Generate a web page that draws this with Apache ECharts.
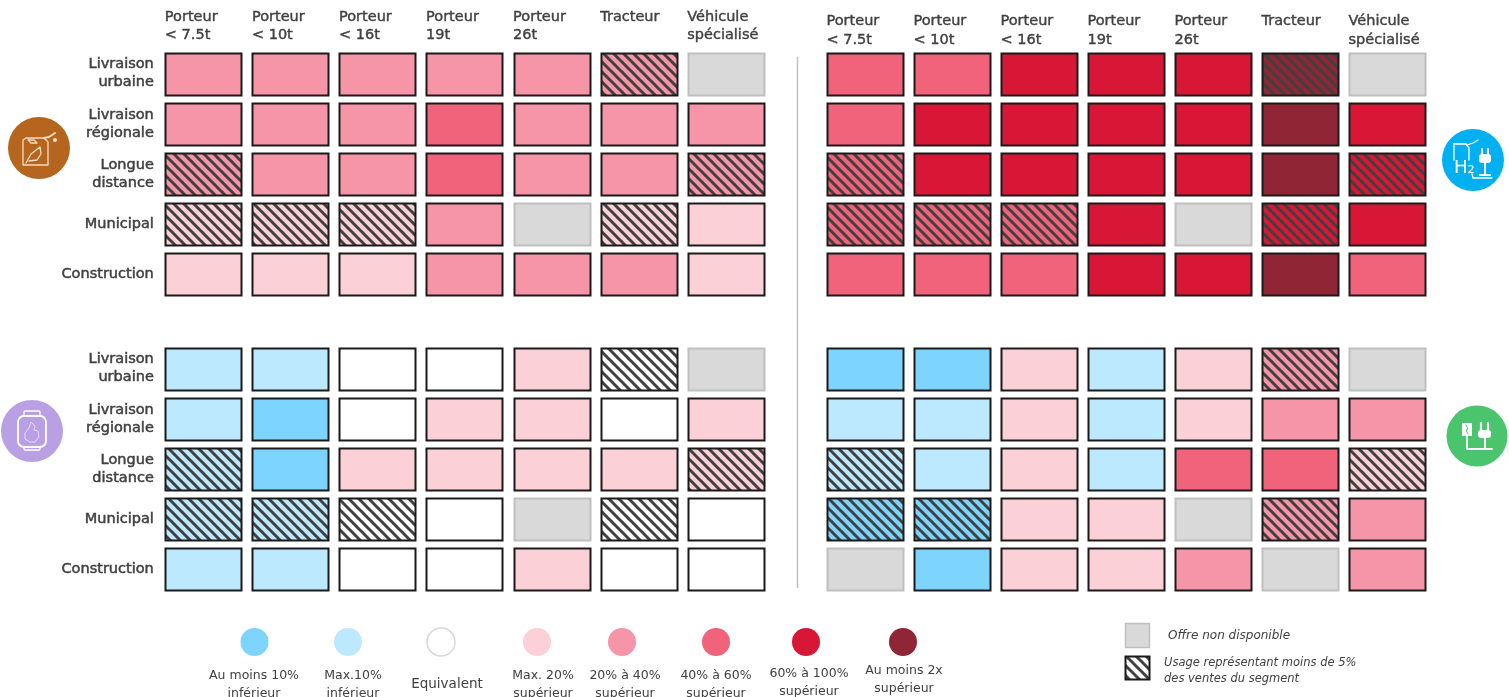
<!DOCTYPE html>
<html><head><meta charset="utf-8">
<style>html,body{margin:0;padding:0;background:#fff;overflow:hidden}#c{width:1509px;height:697px}</style>
<script src="https://cdn.jsdelivr.net/npm/echarts@6/dist/echarts.min.js"></script>
</head><body><div id="c"></div>
<script>
const vehicles = ['Porteur\n< 7.5t','Porteur\n< 10t','Porteur\n< 16t','Porteur\n19t','Porteur\n26t','Tracteur\n ','Véhicule\nspécialisé'];
const usages = ['Livraison\nurbaine','Livraison\nrégionale','Longue\ndistance','Municipal','Construction'];
// 0 au moins 10% inf, 1 max 10% inf, 2 équivalent, 3 max 20% sup, 4 20-40, 5 40-60, 6 60-100, 7 au moins 2x, 8 offre non disponible
const levelColors = ['#7DD4FF','#BDE9FF','#FFFFFF','#FBD0D7','#F695A7','#F1627B','#D81635','#8F2535','#D9D9D9'];
const biofuelLevels = [[4,4,4,4,4,4,8],[4,4,4,5,4,4,4],[4,4,4,5,4,4,4],[3,3,3,4,8,3,3],[3,3,3,4,4,4,3]];
const biofuelHatch  = [[0,0,0,0,0,1,0],[0,0,0,0,0,0,0],[1,0,0,0,0,0,1],[1,1,1,0,0,1,0],[0,0,0,0,0,0,0]];
const hydrogenLevels = [[5,5,6,6,6,7,8],[5,6,6,6,6,7,6],[5,6,6,6,6,7,6],[5,5,5,6,8,6,6],[5,5,5,6,6,7,5]];
const hydrogenHatch  = [[0,0,0,0,0,1,0],[0,0,0,0,0,0,0],[1,0,0,0,0,0,1],[1,1,1,0,0,1,0],[0,0,0,0,0,0,0]];
const gasLevels = [[1,1,2,2,3,2,8],[1,0,2,3,3,2,3],[1,0,3,3,3,3,3],[1,1,2,2,8,2,2],[1,1,2,2,3,2,2]];
const gasHatch  = [[0,0,0,0,0,1,0],[0,0,0,0,0,0,0],[1,0,0,0,0,0,1],[1,1,1,0,0,1,0],[0,0,0,0,0,0,0]];
const electricLevels = [[0,0,3,1,3,4,8],[1,1,3,1,3,4,4],[1,1,3,1,5,5,3],[0,0,3,3,8,4,4],[8,0,3,3,4,8,4]];
const electricHatch  = [[0,0,0,0,0,1,0],[0,0,0,0,0,0,0],[1,0,0,0,0,0,1],[1,1,0,0,0,1,0],[0,0,0,0,0,0,0]];
const legendLabels = ['Au moins 10%\ninférieur','Max.10%\ninférieur','Equivalent','Max. 20%\nsupérieur','20% à 40%\nsupérieur','40% à 60%\nsupérieur','60% à 100%\nsupérieur','Au moins 2x\nsupérieur'];
const legendCodes = [0,1,2,3,4,5,6,7];

const FONT = '"DejaVu Sans", sans-serif';
const TEXT = '#404040';
const patterns = {};
function hatchCanvas(color){
  if(patterns[color]) return patterns[color];
  const s=10, c=document.createElement('canvas'); c.width=s; c.height=s;
  const g=c.getContext('2d');
  g.fillStyle=color; g.fillRect(0,0,s,s);
  g.strokeStyle='#404040'; g.lineWidth=3;
  [[-s,0],[0,0],[s,0]].forEach(o=>{g.beginPath();g.moveTo(o[0]-1,-1);g.lineTo(o[0]+s+1,s+1);g.stroke();});
  return patterns[color]={image:c,repeat:'repeat'};
}
function renderCell(params,api){
  const p=api.coord([api.value(0),api.value(1)]), band=api.size([1,1]);
  const w=band[0]*0.875, h=band[1]*0.84, code=api.value(2), hatch=api.value(3);
  const color=levelColors[code];
  return {type:'rect',
    shape:{x:Math.round(p[0]-w/2)+0.5,y:Math.round(p[1]-h/2)+0.5,width:Math.round(w),height:Math.round(h)},
    style:{fill:hatch?hatchCanvas(color):color,stroke:code===8?'#BFBFBF':'#1A1A1A',lineWidth:2}};
}
function cells(levels,hatch){
  const out=[];
  levels.forEach((row,r)=>row.forEach((v,c)=>out.push([vehicles[c],usages[r],v,hatch[r][c]])));
  return out;
}
const panels=[
 {left:159.8,top:48.5,width:609.5,levels:biofuelLevels,hatch:biofuelHatch,labels:true,margin:4,lh:18},
 {left:821.5,top:48.5,width:609,levels:hydrogenLevels,hatch:hydrogenHatch,labels:false,margin:-1,lh:19},
 {left:159.8,top:343.5,width:609.5,levels:gasLevels,hatch:gasHatch,labels:true,margin:0,lh:18,noX:true},
 {left:821.5,top:343.5,width:609,levels:electricLevels,hatch:electricHatch,labels:false,margin:0,lh:18,noX:true}
];
function lineStyle(extra){return Object.assign({stroke:'#fff',lineWidth:1.3,fill:'none',lineCap:'round',lineJoin:'round'},extra||{});}
// legend layout
const legendX=[254.5,348,441,537,622,716,806,903];
const legendTextX=[254,353,447,543,625,716,809,904];
const legendTextY=[685,685,684,685,685,685,683,680];
const legendCircleY=642;
const graphic=[
  {type:'line',shape:{x1:797.5,y1:57,x2:797.5,y2:588},style:{stroke:'#BFBFBF',lineWidth:1.5}},
  {type:'group',x:39,y:148,silent:true,children:[
    {type:'circle',shape:{cx:0,cy:0,r:31},style:{fill:'#B5651D'}},
    {type:'polyline',shape:{points:[[-13,-10],[5,-10],[9,-6],[9,17],[-16,17],[-16,-8],[-13,-10]]},style:lineStyle({stroke:'#F3DCC4'})},
    {type:'polyline',shape:{points:[[5,-10],[10,-11],[16,-15]]},style:lineStyle({stroke:'#F3DCC4',lineWidth:2})},
    {type:'polyline',shape:{points:[[-11,-8],[-5,-8],[-2,-5],[-8,-5],[-11,-8]]},style:lineStyle({stroke:'#F3DCC4'})},
    {type:'polyline',shape:{points:[[-13,15],[-8,6],[1,-1],[2,6],[-2,12],[-10,13]]},style:lineStyle({stroke:'#F3DCC4'})},
    {type:'circle',shape:{cx:16,cy:-8,r:2},style:{fill:'#F3DCC4'}}
  ]},
  {type:'group',x:1473,y:160,silent:true,children:[
    {type:'circle',shape:{cx:0,cy:0,r:31},style:{fill:'#00B0F0'}},
    {type:'polyline',shape:{points:[[-19,-16],[-7,-16],[-4,-12],[-4,0]]},style:lineStyle()},
    {type:'polyline',shape:{points:[[-19,-16],[-19,0]]},style:lineStyle()},
    {type:'polyline',shape:{points:[[-6,-15],[0,-17],[5,-20]]},style:lineStyle()},
    {type:'text',x:-19,y:-1,style:{text:'H₂',fill:'#fff',font:'18px '+FONT}},
    {type:'polyline',shape:{points:[[-1,14],[0,18],[19,18]]},style:lineStyle()},
    {type:'rect',shape:{x:6,y:-6,width:12,height:9,r:3},style:{fill:'#fff'}},
    {type:'polyline',shape:{points:[[9,-6],[9,-11]]},style:lineStyle({lineWidth:2})},
    {type:'polyline',shape:{points:[[15,-6],[15,-11]]},style:lineStyle({lineWidth:2})},
    {type:'polyline',shape:{points:[[12,3],[12,14]]},style:lineStyle({lineWidth:2})},
    {type:'rect',shape:{x:6,y:14,width:12,height:2,r:1},style:{fill:'#fff'}}
  ]},
  {type:'group',x:32,y:431,silent:true,children:[
    {type:'circle',shape:{cx:0,cy:0,r:31},style:{fill:'#B9A0E4'}},
    {type:'rect',shape:{x:-8,y:-20,width:16,height:5,r:1},style:lineStyle()},
    {type:'rect',shape:{x:-14,y:-15,width:28,height:31,r:6},style:lineStyle({lineWidth:1.8})},
    {type:'rect',shape:{x:-8,y:16,width:16,height:3,r:1},style:lineStyle()},
    {type:'polyline',shape:{points:[[-2,11],[-7,8],[-7,2],[-3,-3],[-1,-9],[3,-5],[2,-1],[6,0],[7,6],[3,11],[-2,11]]},style:lineStyle({lineWidth:1,stroke:'#E6DBF6'})}
  ]},
  {type:'group',x:1477,y:436,silent:true,children:[
    {type:'circle',shape:{cx:0,cy:0,r:30.5},style:{fill:'#4BC46E'}},
    {type:'rect',shape:{x:-15,y:-13,width:10,height:13},style:{fill:'#fff'}},
    {type:'polyline',shape:{points:[[-11,-11],[-9,-7],[-11,-6],[-9,-2]]},style:lineStyle({stroke:'#4BC46E',lineWidth:1})},
    {type:'polyline',shape:{points:[[-10,0],[-10,13],[15,13]]},style:lineStyle({lineWidth:1.8})},
    {type:'rect',shape:{x:1,y:-6,width:13,height:8,r:3},style:{fill:'#fff'}},
    {type:'polyline',shape:{points:[[4,-6],[4,-13]]},style:lineStyle({lineWidth:2.2})},
    {type:'polyline',shape:{points:[[11,-6],[11,-13]]},style:lineStyle({lineWidth:2.2})},
    {type:'polyline',shape:{points:[[8,2],[8,12]]},style:lineStyle({lineWidth:2})}
  ]},
  {type:'rect',shape:{x:1125.5,y:623.5,width:24,height:24},style:{fill:levelColors[8],stroke:'#BFBFBF',lineWidth:1.5}},
  {type:'rect',shape:{x:1125.5,y:656.5,width:24,height:23},style:{fill:hatchCanvas('#FFFFFF'),stroke:'#1A1A1A',lineWidth:2}},
  {type:'text',x:1168,y:636,style:{text:'Offre non disponible',fill:TEXT,font:'italic 12px '+FONT,verticalAlign:'middle'}},
  {type:'text',x:1164,y:671,style:{text:'Usage représentant moins de 5%\ndes ventes du segment',fill:TEXT,font:'italic 11.5px '+FONT,verticalAlign:'middle',lineHeight:16}}
];
legendLabels.forEach((t,i)=>{
  const code=legendCodes[i];
  graphic.push({type:'circle',shape:{cx:legendX[i],cy:legendCircleY,r:14},
    style:{fill:levelColors[code],stroke:code===2?'#D9D9D9':levelColors[code],lineWidth:code===2?1.5:0}});
  graphic.push({type:'text',x:legendTextX[i],y:legendTextY[i],
    style:{text:t,fill:TEXT,font:(code===2?'13.5':'12.5')+'px '+FONT,align:'center',verticalAlign:'middle',lineHeight:18}});
});
const option={
  animation:false,backgroundColor:'#fff',
  textStyle:{fontFamily:FONT},
  grid:panels.map(p=>({left:p.left,top:p.top,width:p.width,height:251,containLabel:false})),
  xAxis:panels.map((p,i)=>({type:'category',gridIndex:i,position:'top',data:vehicles,
    axisLine:{show:false},axisTick:{show:false},splitLine:{show:false},
    axisLabel:{show:!p.noX,interval:0,margin:p.margin,color:TEXT,fontFamily:FONT,fontSize:14.5,
      formatter:v=>v.split('\n').map(l=>'{a|'+l+'}').join('\n'),
      rich:{a:{width:77,align:'left',lineHeight:p.lh,fontSize:14.5,color:TEXT,fontFamily:FONT,textBorderColor:TEXT,textBorderWidth:0.4}}}})),
  yAxis:panels.map((p,i)=>({type:'category',gridIndex:i,inverse:true,data:usages,
    axisLine:{show:false},axisTick:{show:false},splitLine:{show:false},
    axisLabel:{show:p.labels,interval:0,margin:6,color:TEXT,fontFamily:FONT,fontSize:14.5,
      textBorderColor:TEXT,textBorderWidth:0.5,
      align:'right',lineHeight:18,padding:[0,0,5,0]}})),
  series:panels.map((p,i)=>({type:'custom',xAxisIndex:i,yAxisIndex:i,coordinateSystem:'cartesian2d',
    clip:false,silent:true,renderItem:renderCell,data:cells(p.levels,p.hatch),
    encode:{x:0,y:1}})),
  graphic:{elements:graphic}
};
const chart=echarts.init(document.getElementById('c'),null,{renderer:'canvas'});
chart.setOption(option);
</script></body></html>
